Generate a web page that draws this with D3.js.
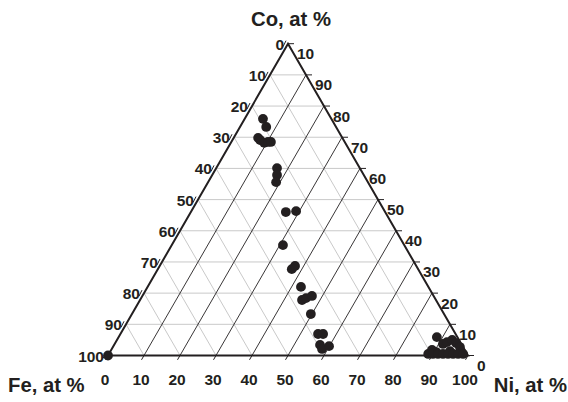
<!DOCTYPE html>
<html>
<head>
<meta charset="utf-8">
<script src="https://cdn.jsdelivr.net/npm/d3@7"></script>
<style>
  html, body { margin: 0; padding: 0; background: #fff; }
  svg { display: block; }
  text { font-family: "Liberation Sans", Arial, Helvetica, sans-serif; font-weight: bold; fill: #231f20; }
</style>
</head>
<body>
<svg id="chart" width="568" height="402"></svg>
<script>
// Alloy compositions, at % (Fe = 100 - Co - Ni)
const coPct = [75.9, 73.3, 69.8, 69.1, 68.2, 68.5, 68.5,
               60.1, 57.9, 55.6, 46.0, 46.3, 35.4, 27.7, 28.7,
               22.0, 17.8, 18.4, 19.1, 13.3, 6.9, 6.9, 3.4, 2.1, 3.0,
               5.9, 3.7, 4.3, 5.0, 4.0, 2.7, 1.8, 1.1, 1.4,
               0.5, 0.5, 0.5, 0.5, 0.5, 0.5, 0.5, 0.5,
               0.0];
const niPct = [5.1, 7.3, 6.8, 7.7, 9.3, 10.2, 11.0,
               16.9, 18.0, 18.9, 26.4, 29.1, 30.9, 37.2, 37.6,
               42.6, 45.0, 45.8, 47.1, 49.7, 54.9, 56.3, 57.2, 58.4, 59.9,
               88.4, 91.2, 92.0, 93.1, 94.7, 96.4, 89.1, 90.6, 94.3,
               88.7, 90.0, 91.4, 92.8, 94.2, 95.6, 97.0, 98.4,
               0.0];

// Tick values (%) and the labels written beside them
const gridSteps = [10, 20, 30, 40, 50, 60, 70, 80, 90];
const feTicks = [0, 10, 20, 30, 40, 50, 60, 70, 80, 90, 100];
const feTickLabels = ["0", "10", "20", "30", "40", "50", "60", "70", "80", "90", "100"];
const coTicks = [100, 90, 80, 70, 60, 50, 40, 30, 20, 10, 0];
const coTickLabels = ["10", "90", "80", "70", "60", "50", "40", "30", "20", "10", "0"];
const niTicks = [0, 10, 20, 30, 40, 50, 60, 70, 80, 90, 100];
const niTickLabels = ["0", "10", "20", "30", "40", "50", "60", "70", "80", "90", "100"];

const svg = d3.select("#chart");

// Ternary mapping: horizontal position from Ni + Co/2, vertical from Co
const x = d3.scaleLinear().domain([0, 100]).range([108, 468]);
const y = d3.scaleLinear().domain([0, 100]).range([355.5, 43.7]);
const pt = (co, ni) => [x(ni + co / 2), y(co)];

const line = (a, b) => `M${a[0]},${a[1]}L${b[0]},${b[1]}`;

const grid = svg.append("g");

// Constant Co (horizontal) and constant Fe lines, light grey
gridSteps.forEach(v => {
  grid.append("path").attr("d", line(pt(v, 0), pt(v, 100 - v)))
    .attr("stroke", "#c9c9c9").attr("stroke-width", 1).attr("fill", "none");
  grid.append("path").attr("d", line(pt(0, 100 - v), pt(100 - v, 0)))
    .attr("stroke", "#c9c9c9").attr("stroke-width", 1).attr("fill", "none");
});
// Constant Ni lines, dark
gridSteps.forEach(v => {
  grid.append("path").attr("d", line(pt(0, v), pt(100 - v, v)))
    .attr("stroke", "#231f20").attr("stroke-width", 0.9).attr("fill", "none");
});

// Triangle outline
svg.append("path")
  .attr("d", `M${pt(100, 0)}L${pt(0, 0)}L${pt(0, 100)}Z`)
  .attr("stroke", "#231f20").attr("stroke-width", 2).attr("fill", "none")
  .attr("stroke-linejoin", "miter");

const ticks = svg.append("g").attr("stroke", "#231f20").attr("stroke-width", 1);
const labels = svg.append("g").attr("font-size", 15.5);

// Fe ticks on the left edge
feTicks.forEach((v, i) => {
  const p = pt(100 - v, 0);
  ticks.append("path").attr("d", line([p[0] - 5, p[1] + 3], [p[0] - 2, p[1] - 3]));
  labels.append("text").attr("x", p[0] - 4).attr("y", p[1] + 6)
    .attr("text-anchor", "end").text(feTickLabels[i]);
});
// Co ticks on the right edge
coTicks.forEach((v, i) => {
  const p = pt(v, 100 - v);
  ticks.append("path").attr("d", line(p, [p[0] + 6, p[1]]));
  labels.append("text").attr("x", p[0] + 9).attr("y", p[1] + 15.5)
    .attr("text-anchor", "start").text(coTickLabels[i]);
});
// Ni ticks on the base
niTicks.forEach((v, i) => {
  const p = pt(0, v);
  ticks.append("path").attr("d", line(p, [p[0] - 2.5, p[1] + 4.3]));
  labels.append("text").attr("x", p[0] - 3).attr("y", p[1] + 29.5)
    .attr("text-anchor", "middle").text(niTickLabels[i]);
});

// Axis titles
const titles = svg.append("g").attr("font-size", 20.3);
titles.append("text").attr("x", 291).attr("y", 25.5).attr("text-anchor", "middle").text("Co, at %");
titles.append("text").attr("x", 8).attr("y", 392).attr("text-anchor", "start").text("Fe, at %");
titles.append("text").attr("x", 567).attr("y", 392).attr("text-anchor", "end").text("Ni, at %");

// Samples
svg.append("g").selectAll("circle")
  .data(coPct.map((co, i) => ({ co, ni: niPct[i], fe: 100 - co - niPct[i] })))
  .join("circle")
  .attr("cx", d => pt(d.co, d.ni)[0])
  .attr("cy", d => pt(d.co, d.ni)[1])
  .attr("r", 4.9)
  .attr("fill", "#231f20");
</script>
</body>
</html>
